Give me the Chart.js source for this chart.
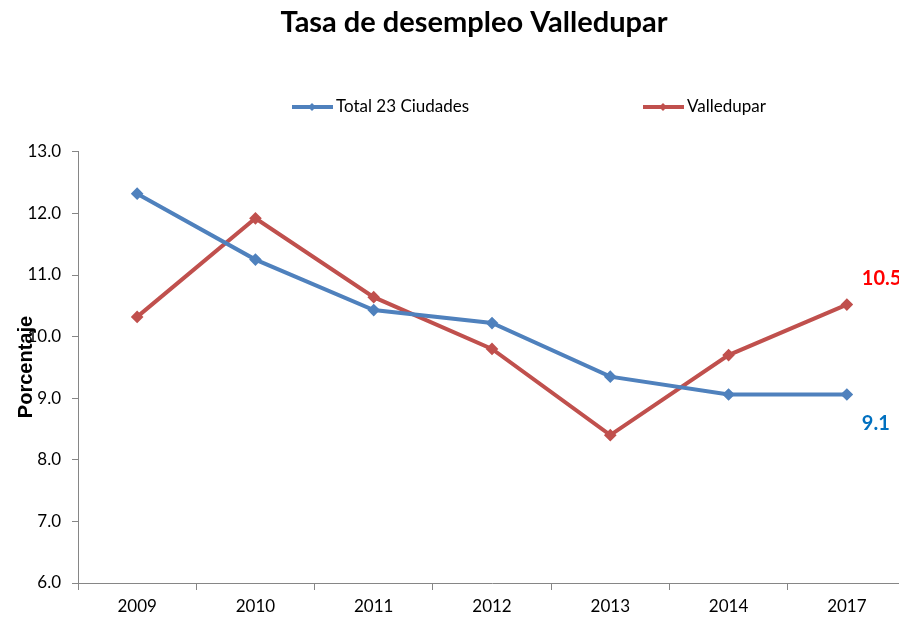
<!DOCTYPE html>
<html>
<head>
<meta charset="utf-8">
<script src="https://cdn.jsdelivr.net/npm/chart.js@4.4.0/dist/chart.umd.min.js"></script>
<style>
  html, body { margin: 0; padding: 0; overflow: hidden; background: #fff; }
  #wrap { position: relative; width: 948px; height: 618px; }
</style>
</head>
<body>
<div id="wrap"><canvas id="chart"></canvas></div>
<script>
// Datos del gráfico
var years = ['2009', '2010', '2011', '2012', '2013', '2014', '2017'];
var total23 = [12.32, 11.25, 10.43, 10.22, 9.35, 9.06, 9.06];
var valledupar = [10.32, 11.92, 10.64, 9.8, 8.4, 9.7, 10.52];
var lastLabels = ['9.1', '10.5'];

var blue = '#4F81BD';
var red = '#C0504D';
var font = 'Lato, "Liberation Sans", sans-serif';

// Leyenda y etiquetas dibujadas a mano
var extras = {
    id: 'extras',
    afterLayout: function (chart) {
        // centrar el título como en el original (sobre todo el ancho)
        if (chart.titleBlock) chart.titleBlock.left = 42;
    },
    afterDraw: function (chart) {
        var ctx = chart.ctx;
        ctx.save();

        // leyenda
        var items = [
            { x: 292, ds: chart.data.datasets[0] },
            { x: 643, ds: chart.data.datasets[1] }
        ];
        ctx.font = '17px ' + font;
        ctx.textBaseline = 'middle';
        items.forEach(function (it) {
            var y = 107;
            ctx.strokeStyle = it.ds.borderColor;
            ctx.lineWidth = 4;
            ctx.beginPath();
            ctx.moveTo(it.x, y);
            ctx.lineTo(it.x + 41, y);
            ctx.stroke();
            ctx.fillStyle = it.ds.borderColor;
            ctx.beginPath();
            ctx.moveTo(it.x + 20, y - 4);
            ctx.lineTo(it.x + 24, y);
            ctx.lineTo(it.x + 20, y + 4);
            ctx.lineTo(it.x + 16, y);
            ctx.closePath();
            ctx.fill();
            ctx.fillStyle = '#000';
            ctx.textAlign = 'left';
            ctx.fillText(it.ds.label, it.x + 44, y);
        });

        // etiquetas del último punto
        ctx.font = 'bold 20px ' + font;
        ctx.textAlign = 'left';
        var m0 = chart.getDatasetMeta(0).data;
        var p0 = m0[m0.length - 1];
        ctx.fillStyle = '#0070C0';
        ctx.fillText(lastLabels[0], p0.x + 15, p0.y + 29);
        var m1 = chart.getDatasetMeta(1).data;
        var p1 = m1[m1.length - 1];
        ctx.fillStyle = '#FF0000';
        ctx.fillText(lastLabels[1], p1.x + 15, p1.y - 26);

        // título del eje Y
        ctx.translate(26, 367);
        ctx.rotate(-Math.PI / 2);
        ctx.font = 'bold 20px "Liberation Sans", Arial, sans-serif';
        ctx.textAlign = 'center';
        ctx.fillStyle = '#000';
        ctx.fillText('Porcentaje', 0, 0);
        ctx.restore();
    }
};

document.addEventListener('DOMContentLoaded', function () {
    var ctx = document.getElementById('chart').getContext('2d');
    new Chart(ctx, {
        type: 'line',
        data: {
            labels: years,
            datasets: [
                {
                    label: 'Total 23 Ciudades',
                    data: total23,
                    borderColor: blue,
                    backgroundColor: blue,
                    borderWidth: 4,
                    pointStyle: 'rectRot',
                    pointRadius: 3.5,
                    pointHoverRadius: 3.5,
                    tension: 0
                },
                {
                    label: 'Valledupar',
                    data: valledupar,
                    borderColor: red,
                    backgroundColor: red,
                    borderWidth: 4,
                    pointStyle: 'rectRot',
                    pointRadius: 3.5,
                    pointHoverRadius: 3.5,
                    tension: 0
                }
            ]
        },
        options: {
            responsive: true,
            maintainAspectRatio: false,
            animation: false,
            layout: { padding: { top: 5, left: 10, right: 42, bottom: 0 } },
            plugins: {
                legend: { display: false },
                tooltip: { enabled: false },
                title: {
                    display: true,
                    text: 'Tasa de desempleo Valledupar',
                    color: '#000',
                    font: { family: font, size: 29, weight: 'bold' },
                    padding: { top: 0, bottom: 112 }
                }
            },
            scales: {
                x: {
                    offset: true,
                    grid: { display: true, drawOnChartArea: false, offset: true, tickLength: 7, color: '#868686' },
                    border: { color: '#868686', width: 1 },
                    ticks: { color: '#000', font: { family: font, size: 17 }, padding: 6, maxRotation: 0 },
                    afterFit: function (s) { s.height = 35; }
                },
                y: {
                    min: 6,
                    max: 13,
                    grid: { display: true, drawOnChartArea: false, tickLength: 6, color: '#868686' },
                    border: { color: '#868686', width: 1 },
                    ticks: {
                        stepSize: 1,
                        color: '#000',
                        padding: 11,
                        font: { family: font, size: 17 },
                        callback: function (v) { return Number(v).toFixed(1); }
                    },
                    afterFit: function (s) { s.width = 68; }
                }
            }
        },
        plugins: [extras]
    });
});
</script>
</body>
</html>
